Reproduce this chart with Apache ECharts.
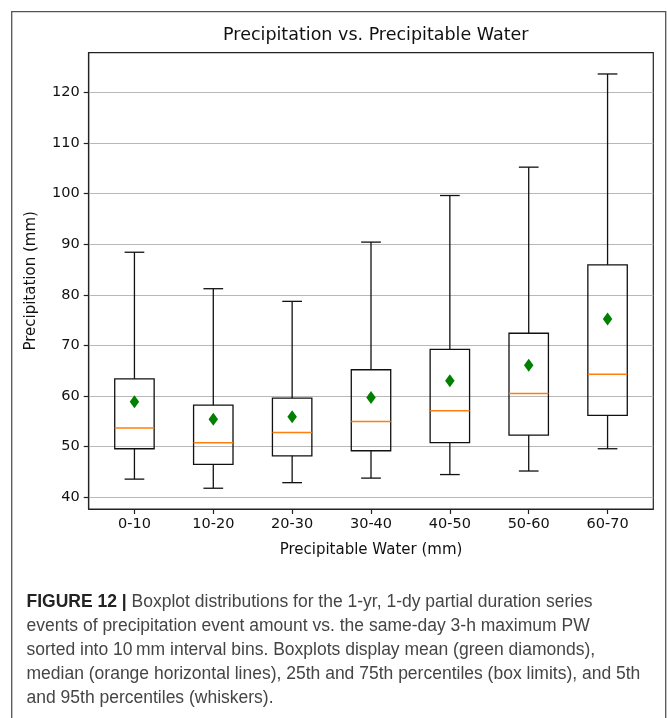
<!DOCTYPE html>
<html><head><meta charset="utf-8">
<script src="https://cdn.jsdelivr.net/npm/echarts@6/dist/echarts.min.js"></script>
<style>html,body{margin:0;padding:0;background:#fff}#c{width:667px;height:718px}</style>
</head><body><div id="c"></div>
<script>
const categories = ['0-10','10-20','20-30','30-40','40-50','50-60','60-70'];
const whiskerLow  = [43.6, 41.8, 42.9, 43.8, 44.5, 45.2, 49.6];
const q1          = [49.6, 46.5, 48.2, 49.2, 50.8, 52.3, 56.2];
const median      = [53.7, 50.8, 52.8, 55.0, 57.1, 60.5, 64.3];
const q3          = [63.4, 58.2, 59.6, 65.2, 69.2, 72.4, 85.9];
const whiskerHigh = [88.4, 81.2, 78.7, 90.4, 99.6, 105.2, 123.6];
const mean        = [58.9, 55.4, 55.9, 59.7, 63.0, 66.1, 75.2];
const yTicks = [40, 50, 60, 70, 80, 90, 100, 110, 120];
const xPositions = categories.map((c, i) => i + 1);
const titleText = 'Precipitation vs. Precipitable Water';
const xAxisTitle = 'Precipitable Water (mm)';
const yAxisTitle = 'Precipitation (mm)';
const captionLabel = 'FIGURE 12 |';
const captionLines = [
  'Boxplot distributions for the 1-yr, 1-dy partial duration series',
  'events of precipitation event amount vs. the same-day 3-h maximum PW',
  'sorted into 10\u202Fmm interval bins. Boxplots display mean (green diamonds),',
  'median (orange horizontal lines), 25th and 75th percentiles (box limits), and 5th',
  'and 95th percentiles (whiskers).'
];

const chart = echarts.init(document.getElementById('c'), null, {renderer: 'canvas'});
const F = 'DejaVu Sans';
const CF = '"Liberation Sans", Arial, sans-serif';

const boxData = xPositions.map((x, i) => [x, whiskerLow[i], q1[i], median[i], q3[i], whiskerHigh[i]]);
const meanData = xPositions.map((x, i) => [x, mean[i]]);

const captionGraphics = captionLines.map((line, k) => ({
  type: 'text',
  left: 26.5,
  top: 593 + k * 24,
  style: {
    text: k === 0 ? '{b|' + captionLabel + '} ' + line : line,
    font: '17.5px ' + CF,
    fontSize: 17.5,
    fontFamily: CF,
    fill: '#454545',
    rich: { b: { fontWeight: 'bold', fontSize: 17.5, fontFamily: CF, fill: '#222', color: '#222' } }
  }
}));

const option = {
  animation: false,
  backgroundColor: '#fff',
  textStyle: { fontFamily: F },
  title: {
    text: titleText,
    left: 370.8,
    textAlign: 'center',
    top: 21.5,
    textStyle: { fontFamily: F, fontSize: 17.5, fontWeight: 'normal', color: '#111' }
  },
  grid: {
    left: 88.7, right: 13.7, top: 52.7, bottom: 209,
    show: true, borderColor: '#222', borderWidth: 1.2, backgroundColor: 'transparent'
  },
  xAxis: {
    type: 'value', min: 0.42, max: 7.58,
    name: xAxisTitle, nameLocation: 'middle', nameGap: 34,
    nameTextStyle: { fontFamily: F, fontSize: 15, color: '#111' },
    axisLine: { show: true, lineStyle: { color: '#222', width: 1.2 } },
    axisTick: { show: true, length: 5, customValues: xPositions, lineStyle: { color: '#222', width: 1.2 } },
    axisLabel: {
      customValues: xPositions, margin: 8,
      fontFamily: F, fontSize: 14.5, color: '#111',
      formatter: v => categories[Math.round(v) - 1] || ''
    },
    splitLine: { show: false }
  },
  yAxis: {
    type: 'value', min: 37.7, max: 127.8,
    name: yAxisTitle, nameLocation: 'middle', nameGap: 50, nameRotate: 90,
    nameTextStyle: { fontFamily: F, fontSize: 15, color: '#111' },
    axisLine: { show: true, lineStyle: { color: '#222', width: 1.2 } },
    axisTick: { show: true, length: 5, customValues: yTicks, lineStyle: { color: '#222', width: 1.2 } },
    axisLabel: { customValues: yTicks, margin: 9, fontFamily: F, fontSize: 14.5, color: '#111' },
    splitLine: { show: true, lineStyle: { color: '#b8b8b8', width: 1 } }
  },
  graphic: [
    { type: 'rect', shape: { x: 11.7, y: 11.7, width: 654, height: 760 },
      style: { fill: null, stroke: '#555', lineWidth: 1.3 }, silent: true, z: 100 }
  ].concat(captionGraphics),
  series: [
    {
      type: 'custom',
      data: boxData,
      encode: { x: 0, y: [1, 2, 3, 4, 5] },
      z: 5,
      renderItem: function (params, api) {
        const xv = api.value(0);
        const lo = api.coord([xv, api.value(1)]);
        const b1 = api.coord([xv, api.value(2)]);
        const md = api.coord([xv, api.value(3)]);
        const b3 = api.coord([xv, api.value(4)]);
        const hi = api.coord([xv, api.value(5)]);
        const bw = api.size([0.5, 0])[0];
        const cw = api.size([0.25, 0])[0];
        const x = lo[0];
        const st = { stroke: '#111', lineWidth: 1.3, fill: null };
        return {
          type: 'group',
          children: [
            { type: 'line', shape: { x1: x, y1: hi[1], x2: x, y2: b3[1] }, style: st },
            { type: 'line', shape: { x1: x, y1: b1[1], x2: x, y2: lo[1] }, style: st },
            { type: 'line', shape: { x1: x - cw / 2, y1: hi[1], x2: x + cw / 2, y2: hi[1] }, style: st },
            { type: 'line', shape: { x1: x - cw / 2, y1: lo[1], x2: x + cw / 2, y2: lo[1] }, style: st },
            { type: 'rect', shape: { x: x - bw / 2, y: b3[1], width: bw, height: b1[1] - b3[1] }, style: st },
            { type: 'line', shape: { x1: x - bw / 2, y1: md[1], x2: x + bw / 2, y2: md[1] },
              style: { stroke: '#ff7f0e', lineWidth: 1.5 } }
          ]
        };
      }
    },
    {
      type: 'scatter',
      data: meanData,
      symbol: 'diamond',
      symbolSize: [9.5, 13],
      z: 10,
      itemStyle: { color: '#008000', opacity: 1 }
    }
  ]
};
chart.setOption(option);
</script></body></html>
